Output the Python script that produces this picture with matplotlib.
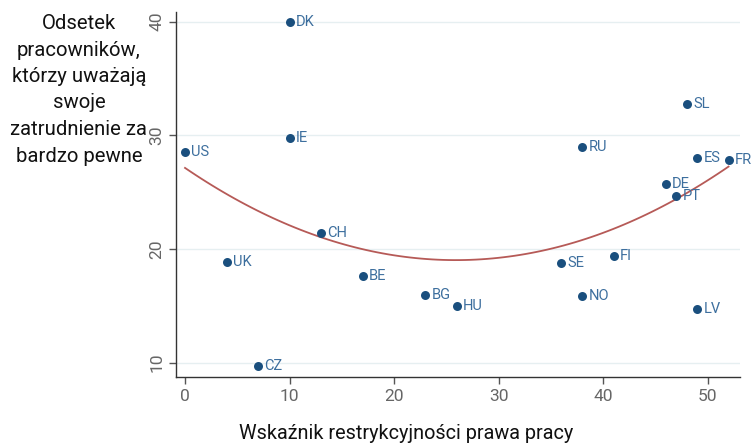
import numpy as np
import matplotlib
matplotlib.use("Agg")
from matplotlib import pyplot as plt

plt.rcParams['font.family'] = ['Roboto', 'DejaVu Sans']

countries = ["DK", "IE", "US", "SL", "RU", "ES", "FR", "DE", "PT", "CH",
             "UK", "FI", "SE", "BE", "BG", "HU", "NO", "LV", "CZ"]
restrictiveness = [10, 10, 0, 48, 38, 49, 52, 46, 47, 13,
                   4, 41, 36, 17, 23, 26, 38, 49, 7]
secure_share = [40.0, 29.8, 28.5, 32.8, 29.0, 28.0, 27.8, 25.7, 24.7, 21.4,
                18.9, 19.4, 18.8, 17.6, 16.0, 15.0, 15.9, 14.7, 9.7]

x_ticks = [0, 10, 20, 30, 40, 50]
y_ticks = [10, 20, 30, 40]

POINT_COLOR = "#1a4f7e"
LABEL_COLOR = "#3d6f9e"
FIT_COLOR = "#b65a57"

fig = plt.figure(figsize=(7.51, 4.44), dpi=100)
ax = fig.add_axes([0.2344, 0.151, 0.751, 0.822])

x = np.array(restrictiveness, dtype=float)
y = np.array(secure_share)

# quadratic fit like Stata's qfit
coef = np.polyfit(x, y, 2)
xs = np.linspace(x.min(), x.max(), 100)
ax.plot(xs, np.polyval(coef, xs), color=FIT_COLOR, lw=1.3, zorder=2)

ax.scatter(x, y, s=42, color=POINT_COLOR, zorder=3, linewidths=0)
for name, xi, yi in zip(countries, x, y):
    ax.annotate(name, (xi, yi), xytext=(4.5, 0), textcoords="offset points",
                va="center", ha="left", fontsize=10.5, color=LABEL_COLOR,
                annotation_clip=False)

ax.set_xlim(-0.86, 53.1)
ax.set_ylim(8.75, 40.85)
ax.set_xticks(x_ticks)
ax.set_yticks(y_ticks)
ax.grid(axis="y", color="#e6eff1", lw=1)
ax.set_axisbelow(True)
for side in ["top", "right"]:
    ax.spines[side].set_visible(False)
for side in ["left", "bottom"]:
    ax.spines[side].set_color("#333333")
    ax.spines[side].set_linewidth(1.0)
ax.tick_params(axis="both", colors="#555555", labelsize=12.5, length=5, width=1)
ax.tick_params(axis="both", labelcolor="#666666")
for lab in ax.get_yticklabels():
    lab.set_rotation(90)
    lab.set_va("center")

fig.text(79 / 751, 1 - 14 / 444,
         "Odsetek\npracowników,\nktórzy uważają\nswoje\nzatrudnienie za\nbardzo pewne",
         ha="center", va="top", fontsize=14.6, linespacing=1.5, color="#111111")
fig.text(406 / 751, 1 - 433 / 444, "Wskaźnik restrykcyjności prawa pracy",
         ha="center", va="center", fontsize=14.3, color="#111111")

fig.savefig("out.png", dpi=100)
